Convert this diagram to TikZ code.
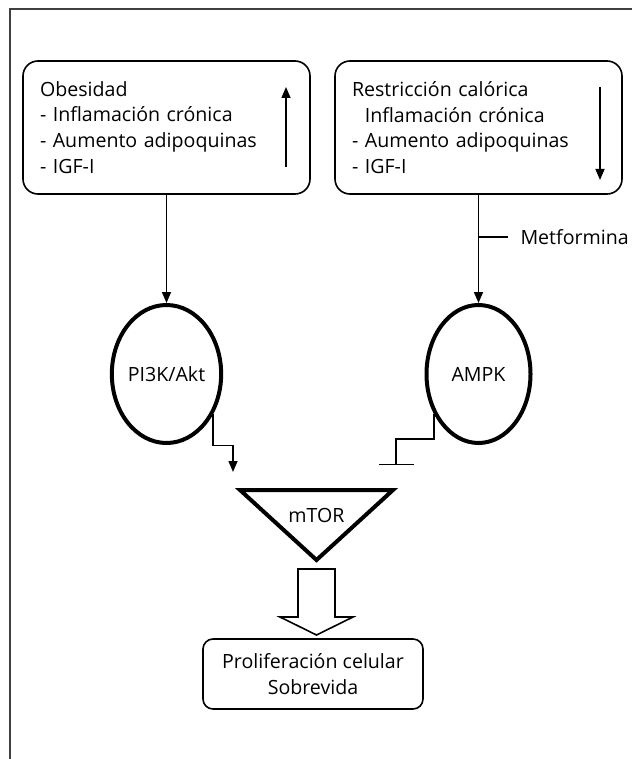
\documentclass[tikz,border=0pt]{standalone}
\usepackage{fontspec}
\setmainfont{Open Sans}
\usetikzlibrary{arrows.meta,shapes.geometric}
\begin{document}
\begin{tikzpicture}[x=1pt,y=-1pt,font=\fontsize{19.6}{25.8}\selectfont,
	info/.style={draw,line width=1.6pt,rounded corners=15pt,minimum height=133pt,text width=253pt,align=left,inner xsep=17pt},
	enzyme/.style={draw,ellipse,line width=4pt,minimum width=104pt,minimum height=138pt,inner sep=0pt},
	act/.style={line width=1.5pt,-{Triangle[width=9pt,length=11pt]}},
	inh/.style={line width=1.5pt,-{Bar[width=35pt,line width=1.5pt]}}]
	\useasboundingbox (0,0) rectangle (632,759);
	\draw[black!75,line width=2pt] (10,759)--(10,9)--(632,9);
	\node[info] (obes) at (166.5,127.5) {Obesidad\\- Inflamación crónica\\- Aumento adipoquinas\\- IGF-I};
	\node[info] (restr) at (478.5,127.5) {Restricción calórica\\\hphantom{- }Inflamación crónica\\- Aumento adipoquinas\\- IGF-I};
	\draw[act] (286,167)--(286,87);
	\draw[act] (600,87)--(600,180);
	\node[enzyme] (pi3k) at (166.5,374) {PI3K/Akt};
	\node[enzyme] (ampk) at (478.5,374) {AMPK};
	\draw[act] (obes.south)--(pi3k.north);
	\draw[act] (restr.south)--(ampk.north);
	\node[anchor=west] (metf) at (517,237) {Metformina};
	\draw[line width=1.5pt] (restr.south |- metf.west)--++(29,0);
	\draw[line width=4pt,line join=miter] (240,490)--(393,490)--(316.5,560)--cycle;
	\node (mtor) at (316.5,515) {mTOR};
	\coordinate (mtorL) at (233,472);
	\coordinate (mtorR) at (396,465);
	\draw[act] (pi3k.-41)--++(0,31)-|(mtorL);
	\draw[inh] (ampk.-138)--++(0,25)-|(mtorR);
	\draw[line width=1.6pt] (298,569)--(335,569)--(335,617)--(353,617)--(316.5,635)--(280,617)--(298,617)--cycle;
	\node[draw,line width=1.6pt,rounded corners=10pt,minimum width=220pt,minimum height=70pt,align=center] (prol) at (313,674) {Proliferación celular\\Sobrevida};
\end{tikzpicture}
\end{document}
